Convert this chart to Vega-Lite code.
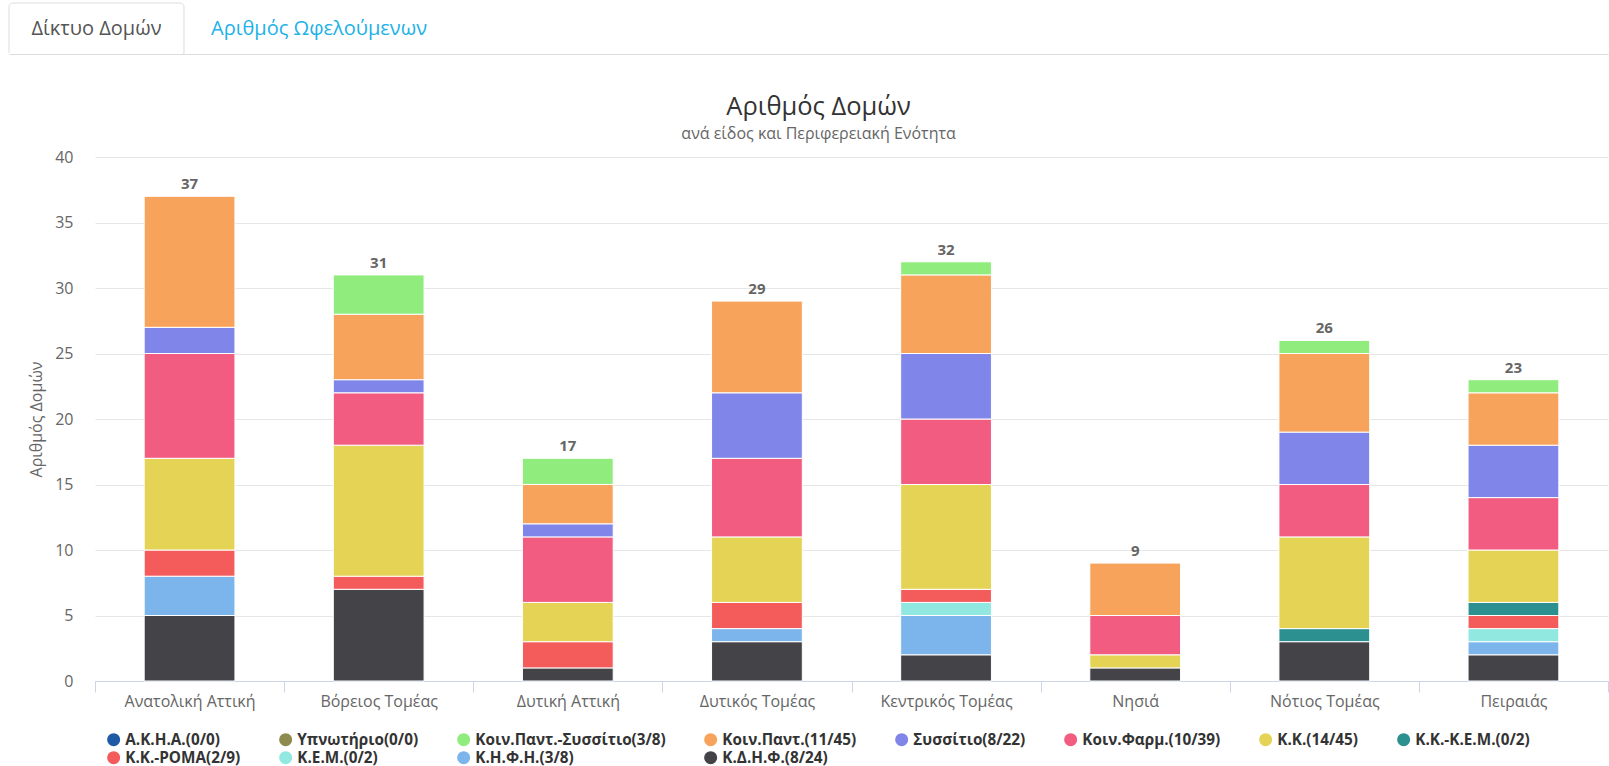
{
  "$schema": "https://vega.github.io/schema/vega-lite/v6.json",
  "padding": {"left": 8, "top": 2, "right": 0, "bottom": 0},
  "config": {
    "font": "Open Sans",
    "view": {"stroke": null},
    "concat": {"spacing": 39}
  },
  "datasets": {
    "types": [
      {"type": "Α.Κ.Η.Α.(0/0)", "rank": 1},
      {"type": "Υπνωτήριο(0/0)", "rank": 2},
      {"type": "Κοιν.Παντ.-Συσσίτιο(3/8)", "rank": 3},
      {"type": "Κοιν.Παντ.(11/45)", "rank": 4},
      {"type": "Συσσίτιο(8/22)", "rank": 5},
      {"type": "Κοιν.Φαρμ.(10/39)", "rank": 6},
      {"type": "Κ.Κ.(14/45)", "rank": 7},
      {"type": "Κ.Κ.-Κ.Ε.Μ.(0/2)", "rank": 8},
      {"type": "Κ.Κ.-ΡΟΜΑ(2/9)", "rank": 9},
      {"type": "Κ.Ε.Μ.(0/2)", "rank": 10},
      {"type": "Κ.Η.Φ.Η.(3/8)", "rank": 11},
      {"type": "Κ.Δ.Η.Φ.(8/24)", "rank": 12}
    ],
    "structures": [
      {"region": "Ανατολική Αττική", "type": "Κ.Δ.Η.Φ.(8/24)", "count": 5},
      {"region": "Ανατολική Αττική", "type": "Κ.Η.Φ.Η.(3/8)", "count": 3},
      {"region": "Ανατολική Αττική", "type": "Κ.Κ.-ΡΟΜΑ(2/9)", "count": 2},
      {"region": "Ανατολική Αττική", "type": "Κ.Κ.(14/45)", "count": 7},
      {"region": "Ανατολική Αττική", "type": "Κοιν.Φαρμ.(10/39)", "count": 8},
      {"region": "Ανατολική Αττική", "type": "Συσσίτιο(8/22)", "count": 2},
      {"region": "Ανατολική Αττική", "type": "Κοιν.Παντ.(11/45)", "count": 10},
      {"region": "Βόρειος Τομέας", "type": "Κ.Δ.Η.Φ.(8/24)", "count": 7},
      {"region": "Βόρειος Τομέας", "type": "Κ.Κ.-ΡΟΜΑ(2/9)", "count": 1},
      {"region": "Βόρειος Τομέας", "type": "Κ.Κ.(14/45)", "count": 10},
      {"region": "Βόρειος Τομέας", "type": "Κοιν.Φαρμ.(10/39)", "count": 4},
      {"region": "Βόρειος Τομέας", "type": "Συσσίτιο(8/22)", "count": 1},
      {"region": "Βόρειος Τομέας", "type": "Κοιν.Παντ.(11/45)", "count": 5},
      {"region": "Βόρειος Τομέας", "type": "Κοιν.Παντ.-Συσσίτιο(3/8)", "count": 3},
      {"region": "Δυτική Αττική", "type": "Κ.Δ.Η.Φ.(8/24)", "count": 1},
      {"region": "Δυτική Αττική", "type": "Κ.Κ.-ΡΟΜΑ(2/9)", "count": 2},
      {"region": "Δυτική Αττική", "type": "Κ.Κ.(14/45)", "count": 3},
      {"region": "Δυτική Αττική", "type": "Κοιν.Φαρμ.(10/39)", "count": 5},
      {"region": "Δυτική Αττική", "type": "Συσσίτιο(8/22)", "count": 1},
      {"region": "Δυτική Αττική", "type": "Κοιν.Παντ.(11/45)", "count": 3},
      {"region": "Δυτική Αττική", "type": "Κοιν.Παντ.-Συσσίτιο(3/8)", "count": 2},
      {"region": "Δυτικός Τομέας", "type": "Κ.Δ.Η.Φ.(8/24)", "count": 3},
      {"region": "Δυτικός Τομέας", "type": "Κ.Η.Φ.Η.(3/8)", "count": 1},
      {"region": "Δυτικός Τομέας", "type": "Κ.Κ.-ΡΟΜΑ(2/9)", "count": 2},
      {"region": "Δυτικός Τομέας", "type": "Κ.Κ.(14/45)", "count": 5},
      {"region": "Δυτικός Τομέας", "type": "Κοιν.Φαρμ.(10/39)", "count": 6},
      {"region": "Δυτικός Τομέας", "type": "Συσσίτιο(8/22)", "count": 5},
      {"region": "Δυτικός Τομέας", "type": "Κοιν.Παντ.(11/45)", "count": 7},
      {"region": "Κεντρικός Τομέας", "type": "Κ.Δ.Η.Φ.(8/24)", "count": 2},
      {"region": "Κεντρικός Τομέας", "type": "Κ.Η.Φ.Η.(3/8)", "count": 3},
      {"region": "Κεντρικός Τομέας", "type": "Κ.Ε.Μ.(0/2)", "count": 1},
      {"region": "Κεντρικός Τομέας", "type": "Κ.Κ.-ΡΟΜΑ(2/9)", "count": 1},
      {"region": "Κεντρικός Τομέας", "type": "Κ.Κ.(14/45)", "count": 8},
      {"region": "Κεντρικός Τομέας", "type": "Κοιν.Φαρμ.(10/39)", "count": 5},
      {"region": "Κεντρικός Τομέας", "type": "Συσσίτιο(8/22)", "count": 5},
      {"region": "Κεντρικός Τομέας", "type": "Κοιν.Παντ.(11/45)", "count": 6},
      {"region": "Κεντρικός Τομέας", "type": "Κοιν.Παντ.-Συσσίτιο(3/8)", "count": 1},
      {"region": "Νησιά", "type": "Κ.Δ.Η.Φ.(8/24)", "count": 1},
      {"region": "Νησιά", "type": "Κ.Κ.(14/45)", "count": 1},
      {"region": "Νησιά", "type": "Κοιν.Φαρμ.(10/39)", "count": 3},
      {"region": "Νησιά", "type": "Κοιν.Παντ.(11/45)", "count": 4},
      {"region": "Νότιος Τομέας", "type": "Κ.Δ.Η.Φ.(8/24)", "count": 3},
      {"region": "Νότιος Τομέας", "type": "Κ.Κ.-Κ.Ε.Μ.(0/2)", "count": 1},
      {"region": "Νότιος Τομέας", "type": "Κ.Κ.(14/45)", "count": 7},
      {"region": "Νότιος Τομέας", "type": "Κοιν.Φαρμ.(10/39)", "count": 4},
      {"region": "Νότιος Τομέας", "type": "Συσσίτιο(8/22)", "count": 4},
      {"region": "Νότιος Τομέας", "type": "Κοιν.Παντ.(11/45)", "count": 6},
      {"region": "Νότιος Τομέας", "type": "Κοιν.Παντ.-Συσσίτιο(3/8)", "count": 1},
      {"region": "Πειραιάς", "type": "Κ.Δ.Η.Φ.(8/24)", "count": 2},
      {"region": "Πειραιάς", "type": "Κ.Η.Φ.Η.(3/8)", "count": 1},
      {"region": "Πειραιάς", "type": "Κ.Ε.Μ.(0/2)", "count": 1},
      {"region": "Πειραιάς", "type": "Κ.Κ.-ΡΟΜΑ(2/9)", "count": 1},
      {"region": "Πειραιάς", "type": "Κ.Κ.-Κ.Ε.Μ.(0/2)", "count": 1},
      {"region": "Πειραιάς", "type": "Κ.Κ.(14/45)", "count": 4},
      {"region": "Πειραιάς", "type": "Κοιν.Φαρμ.(10/39)", "count": 4},
      {"region": "Πειραιάς", "type": "Συσσίτιο(8/22)", "count": 4},
      {"region": "Πειραιάς", "type": "Κοιν.Παντ.(11/45)", "count": 4},
      {"region": "Πειραιάς", "type": "Κοιν.Παντ.-Συσσίτιο(3/8)", "count": 1}
    ]
  },
  "vconcat": [
    {
      "width": 1513,
      "height": 51,
      "data": {"values": [
        {"tab": "Δίκτυο Δομών", "active": true},
        {"tab": "Αριθμός Ωφελούμενων", "active": false}
      ]},
      "encoding": {
        "x": {
          "field": "tab", "type": "nominal", "sort": null,
          "scale": {
            "domain": ["Δίκτυο Δομών", "Αριθμός Ωφελούμενων", "_a", "_b", "_c", "_d", "_e"],
            "range": [-86, 1513], "paddingInner": 0.2135, "paddingOuter": 0.2, "align": 0
          },
          "axis": {"title": null, "labels": false, "ticks": false, "domainColor": "#dddddd", "domainWidth": 1}
        }
      },
      "layer": [
        {
          "transform": [{"filter": "datum.active"}],
          "mark": {"type": "rect", "fill": "#ffffff", "stroke": "#dddddd", "strokeWidth": 1, "cornerRadiusTopLeft": 4, "cornerRadiusTopRight": 4, "y2Offset": 1, "strokeDash": [221.3, 175, 60, 0]}
        },
        {
          "mark": {"type": "text", "fontSize": 20, "align": "center", "baseline": "middle"},
          "encoding": {
            "text": {"field": "tab"},
            "color": {"condition": {"test": "datum.active", "value": "#555555"}, "value": "#20b2e8"}
          }
        }
      ]
    },
    {
      "width": 1513,
      "height": 524,
      "title": {
        "text": "Αριθμός Δομών",
        "subtitle": "ανά είδος και Περιφερειακή Ενότητα",
        "fontSize": 25.5, "fontWeight": "normal", "color": "#333333",
        "subtitleFontSize": 16, "subtitleColor": "#666666", "subtitlePadding": 6,
        "offset": 7, "anchor": "middle", "frame": "bounds"
      },
      "data": {"name": "structures"},
      "transform": [
        {"lookup": "type", "from": {"data": {"name": "types"}, "key": "type", "fields": ["rank"]}}
      ],
      "encoding": {
        "x": {
          "field": "region", "type": "nominal", "sort": null,
          "scale": {"paddingInner": 0, "paddingOuter": 0},
          "axis": {
            "title": null, "labelAngle": 0, "labelFontSize": 16, "labelColor": "#666666",
            "domainColor": "#ccd6eb", "tickColor": "#ccd6eb", "tickSize": 11,
            "tickBand": "extent", "labelPadding": 1, "grid": false
          }
        }
      },
      "layer": [
        {
          "mark": {"type": "bar", "width": {"band": 0.48}, "stroke": "#ffffff", "strokeWidth": 1},
          "encoding": {
            "y": {
              "field": "count", "type": "quantitative", "stack": "zero",
              "scale": {"domain": [0, 40]},
              "axis": {
                "title": "Αριθμός Δομών", "values": [0, 5, 10, 15, 20, 25, 30, 35, 40],
                "grid": true, "gridColor": "#e6e6e6", "domain": false, "ticks": false,
                "labelFontSize": 16, "labelColor": "#666666", "labelPadding": 22,
                "titleFontSize": 16, "titleFontWeight": "normal", "titleColor": "#666666", "titlePadding": 10
              }
            },
            "color": {
              "field": "type", "type": "nominal",
              "scale": {
                "domain": ["Α.Κ.Η.Α.(0/0)", "Υπνωτήριο(0/0)", "Κοιν.Παντ.-Συσσίτιο(3/8)", "Κοιν.Παντ.(11/45)", "Συσσίτιο(8/22)", "Κοιν.Φαρμ.(10/39)", "Κ.Κ.(14/45)", "Κ.Κ.-Κ.Ε.Μ.(0/2)", "Κ.Κ.-ΡΟΜΑ(2/9)", "Κ.Ε.Μ.(0/2)", "Κ.Η.Φ.Η.(3/8)", "Κ.Δ.Η.Φ.(8/24)"],
                "range": ["#1f5aa6", "#8d8c4e", "#90ed7d", "#f7a35c", "#8085e9", "#f15c80", "#e4d354", "#2b908f", "#f45b5b", "#91e8e1", "#7cb5ec", "#434348"]
              },
              "legend": {
                "title": " ", "titleOrient": "left", "titleFontSize": 10, "titlePadding": 11,
                "orient": "bottom", "direction": "horizontal", "columns": 8,
                "symbolType": "circle", "symbolSize": 170, "symbolStrokeWidth": 0,
                "labelFontSize": 15.3, "labelFontWeight": "bold", "labelColor": "#333333",
                "labelLimit": 400, "columnPadding": 37, "rowPadding": 2, "offset": 23
              }
            },
            "order": {"field": "rank", "sort": "descending"}
          }
        },
        {
          "transform": [
            {"aggregate": [{"op": "sum", "field": "count", "as": "total"}], "groupby": ["region"]}
          ],
          "mark": {"type": "text", "baseline": "bottom", "dy": -4, "fontWeight": "bold", "fontSize": 15, "color": "#666666"},
          "encoding": {
            "y": {"field": "total", "type": "quantitative"},
            "text": {"field": "total", "type": "quantitative"}
          }
        }
      ]
    }
  ]
}
